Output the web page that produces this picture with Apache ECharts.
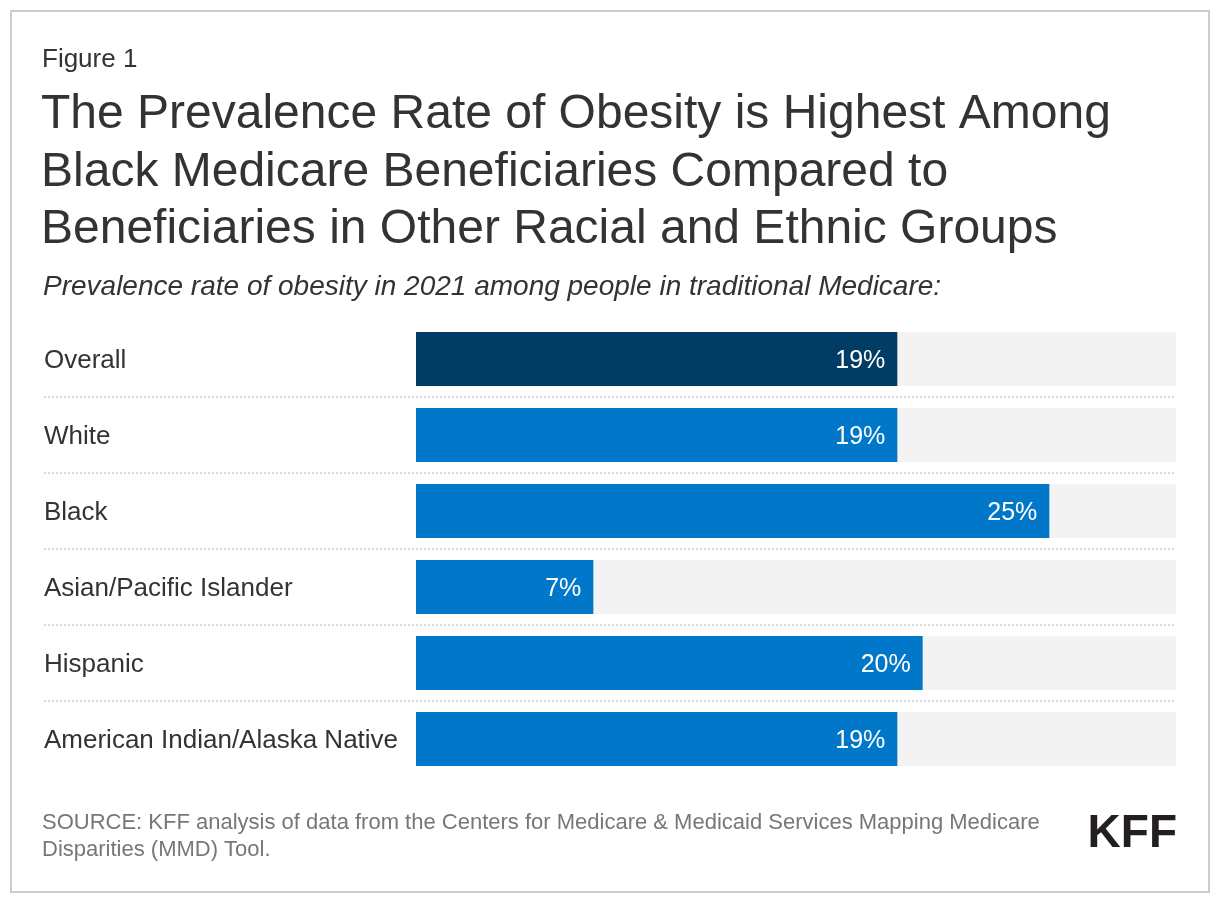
<!DOCTYPE html>
<html>
<head>
<meta charset="utf-8">
<style>
  html, body { margin: 0; padding: 0; background: #fff; }
  #chart { width: 1220px; height: 904px; }
</style>
<script src="https://cdn.jsdelivr.net/npm/echarts@6/dist/echarts.min.js"></script>
</head>
<body>
<div id="chart"></div>
<script>
const categories = ['Overall', 'White', 'Black', 'Asian/Pacific Islander', 'Hispanic', 'American Indian/Alaska Native'];
const values = [19, 19, 25, 7, 20, 19];
const highlight = 'Overall';

const FONT = "'Liberation Sans', Arial, Helvetica, sans-serif";
const chart = echarts.init(document.getElementById('chart'), null, { renderer: 'canvas' });

const option = {
  backgroundColor: '#ffffff',
  animation: false,
  textStyle: { fontFamily: FONT },
  graphic: [
    { type: 'rect', shape: { x: 11, y: 11, width: 1198, height: 881 }, style: { fill: 'none', stroke: '#cccccc', lineWidth: 2 } },
    { type: 'text', x: 42, y: 60, style: { text: 'Figure 1', font: '26px ' + FONT, fill: '#333333', verticalAlign: 'middle' } },
    { type: 'text', x: 41, y: 115, style: { text: 'The Prevalence Rate of Obesity is Highest Among', font: '48px ' + FONT, fill: '#333333', verticalAlign: 'middle' } },
    { type: 'text', x: 41, y: 173, style: { text: 'Black Medicare Beneficiaries Compared to', font: '48px ' + FONT, fill: '#333333', verticalAlign: 'middle' } },
    { type: 'text', x: 41, y: 230, style: { text: 'Beneficiaries in Other Racial and Ethnic Groups', font: '48px ' + FONT, fill: '#333333', verticalAlign: 'middle' } },
    { type: 'text', x: 43, y: 287, style: { text: 'Prevalence rate of obesity in 2021 among people in traditional Medicare:', font: 'italic 28px ' + FONT, fill: '#333333', verticalAlign: 'middle' } },
    { type: 'text', x: 42, y: 823, style: { text: 'SOURCE: KFF analysis of data from the Centers for Medicare & Medicaid Services Mapping Medicare', font: '22px ' + FONT, fill: '#777777', verticalAlign: 'middle' } },
    { type: 'text', x: 42, y: 850, style: { text: 'Disparities (MMD) Tool.', font: '22px ' + FONT, fill: '#777777', verticalAlign: 'middle' } },
    { type: 'text', x: 1177, y: 834, style: { text: 'KFF', font: 'bold 46px ' + FONT, fill: '#231f20', align: 'right', verticalAlign: 'middle' } }
  ],
  grid: [
    { left: 44, right: 44, top: 321, height: 456, containLabel: false },
    { left: 416, right: 44, top: 321, height: 456, containLabel: false }
  ],
  xAxis: [
    { gridIndex: 0, type: 'value', min: 0, max: 1, show: false },
    { gridIndex: 1, type: 'value', min: 0, max: 30, show: false }
  ],
  yAxis: [
    {
      gridIndex: 0, type: 'category', inverse: true, data: categories,
      axisLine: { show: false }, axisTick: { show: false },
      axisLabel: {
        inside: true, margin: 0, fontSize: 26, color: '#333333', fontFamily: FONT,
        formatter: v => '{c|' + v + '}',
        rich: { c: { fontSize: 26, color: '#333333', fontFamily: FONT, padding: [4, 0, 0, 0] } }
      },
      splitLine: { show: true, showMinLine: false, showMaxLine: false, lineStyle: { color: '#d9d9d9', width: 2, type: [2, 2] } }
    },
    {
      gridIndex: 1, type: 'category', inverse: true, data: categories,
      axisLine: { show: false }, axisTick: { show: false }, axisLabel: { show: false }, splitLine: { show: false }
    }
  ],
  series: [
    {
      type: 'bar',
      xAxisIndex: 1, yAxisIndex: 1,
      barWidth: 54,
      showBackground: true,
      backgroundStyle: { color: '#f3f3f3' },
      data: values.map((v, i) => ({
        value: v,
        itemStyle: { color: categories[i] === highlight ? '#003c64' : '#0077c8' }
      })),
      label: {
        show: true, position: 'insideRight', distance: 12, offset: [0, 2],
        color: '#ffffff', fontSize: 25, fontFamily: FONT,
        formatter: p => p.value + '%'
      }
    }
  ]
};
chart.setOption(option);
</script>
</body>
</html>
